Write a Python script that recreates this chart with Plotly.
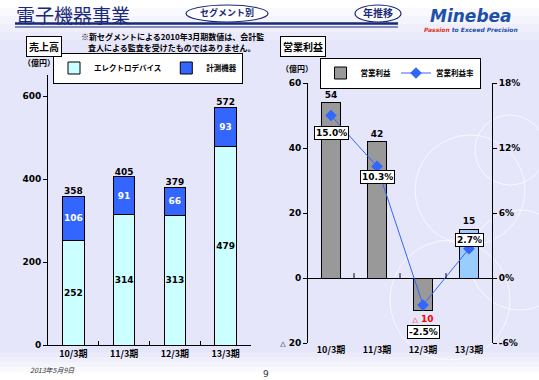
import plotly.graph_objects as go

# ---------------- data ----------------
periods = ["10/3期", "11/3期", "12/3期", "13/3期"]
electro = [252, 314, 313, 479]
measure = [106, 91, 66, 93]
op_profit = [54, 42, -10, 15]
op_margin = [15.0, 10.3, -2.5, 2.7]
left_ticks = [0, 200, 400, 600]
right_ticks = [-20, 0, 20, 40, 60]
right_ticklabels = ["<span style='font-size:7px'>△</span> 20", "0", "20", "40", "60"]
pct_ticks = [-6, 0, 6, 12, 18]
pct_ticklabels = ["-6%", "0%", "6%", "12%", "18%"]

totals = [e + m for e, m in zip(electro, measure)]

W, H = 539, 380
JP = "Noto Sans CJK JP"
NUM = "DejaVu Sans"
NAVY = "#1B2A78"

def px(x):
    return x / W

def py(y):
    return 1 - y / H

fig = go.Figure()

# ---------- left: stacked sales ----------
fig.add_trace(go.Bar(
    x=periods, y=electro, name="エレクトロデバイス",
    marker=dict(color="#CCFFFF", line=dict(color="black", width=1)),
    width=0.42, text=[str(v) for v in electro], textposition="inside",
    insidetextanchor="middle", textangle=0, constraintext="none",
    textfont=dict(family=NUM, size=9, color="black", weight="bold"),
    xaxis="x", yaxis="y", legend="legend",
))
fig.add_trace(go.Bar(
    x=periods, y=measure, name="計測機器",
    marker=dict(color="#3366FF", line=dict(color="black", width=1)),
    width=0.42, text=[str(v) for v in measure], textposition="inside",
    insidetextanchor="middle", textangle=0, constraintext="none",
    textfont=dict(family=NUM, size=9, color="white", weight="bold"),
    xaxis="x", yaxis="y", legend="legend",
))
fig.add_trace(go.Scatter(
    x=periods, y=totals, mode="text", text=[str(v) for v in totals],
    textposition="top center",
    textfont=dict(family=NUM, size=9, color="black", weight="bold"),
    showlegend=False, xaxis="x", yaxis="y", cliponaxis=False,
))

# ---------- right: operating profit ----------
bar_colors = ["#999999", "#999999", "#999999", "#99CCFF"]
op_text = [f"<span style='font-size:7px'>△</span> {abs(v)}" if v < 0 else str(v) for v in op_profit]
op_text_col = ["red" if v < 0 else "black" for v in op_profit]
fig.add_trace(go.Bar(
    x=periods, y=op_profit, name="営業利益",
    marker=dict(color=bar_colors, line=dict(color="black", width=1)),
    width=0.41, text=op_text, textposition="outside", textangle=0,
    constraintext="none",
    textfont=dict(family=NUM, size=9, color=op_text_col, weight="bold"),
    cliponaxis=False,
    xaxis="x2", yaxis="y2", legend="legend2",
))
fig.add_trace(go.Scatter(
    x=periods, y=op_margin, name="営業利益率", mode="lines+markers",
    line=dict(color="#3366FF", width=1),
    marker=dict(symbol="diamond", size=9, color="#3366FF"),
    xaxis="x2", yaxis="y3", legend="legend2",
))

# percentage boxes
pct_shift = [-17, -11, -27, 9]
annotations = []
for p, v, s in zip(periods, op_margin, pct_shift):
    annotations.append(dict(
        x=p, y=v, xref="x2", yref="y3", text=f"{v:.1f}%", showarrow=False,
        yshift=s, bgcolor="white", bordercolor="black", borderwidth=1, borderpad=1,
        font=dict(family=NUM, size=9, color="black", weight="bold"),
    ))

# ---------- header / decoration text ----------
def txt(x, y, t, size=9, color="black", family=JP, weight="bold", xanchor="left",
        yanchor="middle", style="normal", **kw):
    d = dict(x=px(x), y=py(y), xref="paper", yref="paper", text=t, showarrow=False,
             xanchor=xanchor, yanchor=yanchor,
             font=dict(family=family, size=size, color=color, weight=weight, style=style))
    d.update(kw)
    return d

annotations += [
    txt(14, 14, "電子機器事業", size=19, color=NAVY, weight="normal"),
    txt(227, 13, "セグメント別", size=9, color=NAVY, xanchor="center"),
    txt(378, 13, "年推移", size=10, color=NAVY, xanchor="center"),
    txt(471, 16, "Minebea", size=17, color="#1E50A8", family="DejaVu Sans",
        style="italic", xanchor="center"),
    txt(471, 29, "<span style='color:#E03020'>Passion</span> to Exceed Precision",
        size=6, color="#1E50A8", family="DejaVu Sans", style="italic", xanchor="center"),
    txt(172, 37, "※新セグメントによる2010年3月期数値は、会計監", size=8, xanchor="center"),
    txt(172, 48, "査人による監査を受けたものではありません。", size=8, xanchor="center"),
    txt(44, 46, "売上高", size=10, xanchor="center", bgcolor="white",
        bordercolor="black", borderwidth=1, borderpad=2),
    txt(303, 46, "営業利益", size=10, xanchor="center", bgcolor="white",
        bordercolor="black", borderwidth=1, borderpad=2),
    txt(39, 63, "（億円）", size=8, xanchor="center"),
    txt(297, 68, "（億円）", size=8, xanchor="center"),
    txt(28, 370, "2013年5月9日", size=7, color="#333333", weight="normal", style="italic"),
    txt(266, 374, "9", size=9, color="#333333", family=NUM, weight="normal", xanchor="center"),
]

shapes = []
# background gradient (top and bottom)
top_steps = ["#FFFFFF", "#FAFAFE", "#F4F4FC", "#EFEFFC", "#EAEAFB"]
for i, c in enumerate(top_steps):
    shapes.append(dict(type="rect", xref="paper", yref="paper", layer="below",
                       x0=0, x1=1, y0=py(8 * (i + 1)), y1=py(8 * i),
                       fillcolor=c, line=dict(width=0)))
bot_steps = ["#EAEAFB", "#EFEFFC", "#F4F4FC", "#F9F9FE", "#FFFFFF", "#FFFFFF"]
for i, c in enumerate(bot_steps):
    y0 = 352 + 5 * i
    shapes.append(dict(type="rect", xref="paper", yref="paper", layer="below",
                       x0=0, x1=1, y0=py(y0 + 5 if i < 5 else 380), y1=py(y0),
                       fillcolor=c, line=dict(width=0)))
# decorative faint circles (right side)
for cx, cy, r in [(470, 190, 55), (510, 150, 35), (450, 300, 60), (520, 260, 50)]:
    shapes.append(dict(type="circle", xref="paper", yref="paper", layer="below",
                       x0=px(cx - r), x1=px(cx + r), y0=py(cy + r), y1=py(cy - r),
                       line=dict(color="rgba(255,255,255,0.7)", width=1)))
# header rules
shapes.append(dict(type="line", xref="paper", yref="paper", x0=px(15), x1=px(398),
                   y0=py(23.5), y1=py(23.5), line=dict(color=NAVY, width=2.5)))
shapes.append(dict(type="line", xref="paper", yref="paper", x0=px(15), x1=px(398),
                   y0=py(27), y1=py(27), line=dict(color=NAVY, width=1)))
# ovals
shapes.append(dict(type="circle", xref="paper", yref="paper", x0=px(186), x1=px(268),
                   y0=py(22), y1=py(5), line=dict(color=NAVY, width=1.2), fillcolor="white"))
shapes.append(dict(type="circle", xref="paper", yref="paper", x0=px(355), x1=px(401),
                   y0=py(22), y1=py(5), line=dict(color=NAVY, width=1.2), fillcolor="white"))
# category boundary ticks on zero line of right chart
for i in range(len(periods) - 1):
    shapes.append(dict(type="line", xref="x2", yref="y2", x0=i + 0.5, x1=i + 0.5,
                       y0=0, y1=1.5, line=dict(color="black", width=1)))

tickfont = dict(family=NUM, size=9, color="black", weight="bold")
catfont = dict(family=JP, size=9, color="black", weight="bold")

fig.update_layout(
    width=W, height=H,
    margin=dict(l=0, r=0, t=0, b=0, pad=0, autoexpand=False),
    paper_bgcolor="#E6E6FA", plot_bgcolor="rgba(0,0,0,0)",
    barmode="stack",
    showlegend=True,
    xaxis=dict(domain=[px(48), px(251)], anchor="y", showline=True, linecolor="black",
               ticks="inside", tickson="boundaries", ticklen=4, tickcolor="black",
               tickfont=catfont, showgrid=False, automargin=False),
    yaxis=dict(domain=[py(345), py(75.25)], anchor="x", range=[0, 650],
               tickvals=left_ticks, showline=True, linecolor="black", ticks="outside",
               ticklen=4, tickcolor="black", tickfont=tickfont, showgrid=False,
               zeroline=False, automargin=False),
    xaxis2=dict(domain=[px(308), px(492)], anchor="y2", showline=False, ticks="",
                tickfont=catfont, showgrid=False, automargin=False),
    yaxis2=dict(domain=[py(343), py(83)], anchor="x2", range=[-20, 60],
                tickvals=right_ticks, ticktext=right_ticklabels, showline=True,
                linecolor="black", ticks="outside", ticklen=4, tickcolor="black",
                tickfont=tickfont, showgrid=False, zeroline=True, zerolinecolor="black",
                zerolinewidth=1, automargin=False),
    yaxis3=dict(overlaying="y2", anchor="x2", side="right", range=[-6, 18],
                tickvals=pct_ticks, ticktext=pct_ticklabels, showline=True,
                linecolor="black", ticks="outside", ticklen=4, tickcolor="black",
                tickfont=tickfont, showgrid=False, zeroline=False, automargin=False),
    legend=dict(x=px(148), y=py(68), xanchor="center", yanchor="middle", orientation="h",
                traceorder="normal",
                bgcolor="white", bordercolor="black", borderwidth=1,
                font=dict(family=JP, size=7.5, color="black", weight="bold"),
                itemwidth=30, tracegroupgap=0),
    legend2=dict(x=px(400), y=py(73), xanchor="center", yanchor="middle", orientation="h",
                 traceorder="normal",
                 bgcolor="white", bordercolor="black", borderwidth=1,
                 font=dict(family=JP, size=7.5, color="black", weight="bold"),
                 itemwidth=30, tracegroupgap=0),
    annotations=annotations,
    shapes=shapes,
)

fig.write_html("out.html", config={"displayModeBar": False},
               post_script="document.body.style.margin='0';document.body.style.overflow='hidden';")
